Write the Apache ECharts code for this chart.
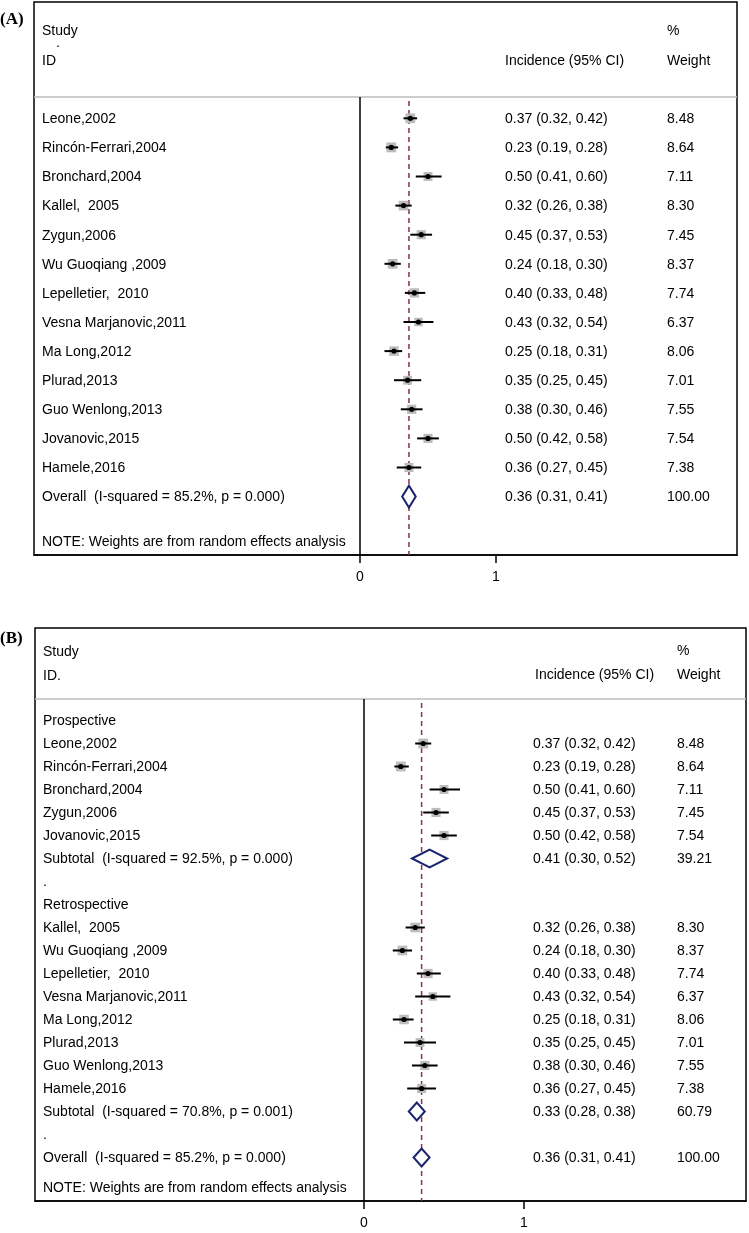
<!DOCTYPE html>
<html><head><meta charset="utf-8">
<script src="https://cdn.jsdelivr.net/npm/echarts@6/dist/echarts.min.js"></script>
<style>html,body{margin:0;padding:0;background:#fff}#c{width:749px;height:1233px}</style>
</head><body><div id="c"></div>
<script>
// ---------------- DATA ----------------
// Panel A: all studies
const studiesA = ['Leone,2002','Rincón-Ferrari,2004','Bronchard,2004','Kallel,  2005','Zygun,2006','Wu Guoqiang ,2009','Lepelletier,  2010','Vesna Marjanovic,2011','Ma Long,2012','Plurad,2013','Guo Wenlong,2013','Jovanovic,2015','Hamele,2016'];
const esA = [0.37,0.23,0.50,0.32,0.45,0.24,0.40,0.43,0.25,0.35,0.38,0.50,0.36];
const loA = [0.32,0.19,0.41,0.26,0.37,0.18,0.33,0.32,0.18,0.25,0.30,0.42,0.27];
const hiA = [0.42,0.28,0.60,0.38,0.53,0.30,0.48,0.54,0.31,0.45,0.46,0.58,0.45];
const wA  = [8.48,8.64,7.11,8.30,7.45,8.37,7.74,6.37,8.06,7.01,7.55,7.54,7.38];
const overallLabel = 'Overall  (I-squared = 85.2%, p = 0.000)';
const overallEs = [0.36, 0.31, 0.41, 100.00]; // es, lo, hi, weight

// Panel B: prospective subgroup
const studiesP = ['Leone,2002','Rincón-Ferrari,2004','Bronchard,2004','Zygun,2006','Jovanovic,2015'];
const esP = [0.37,0.23,0.50,0.45,0.50];
const loP = [0.32,0.19,0.41,0.37,0.42];
const hiP = [0.42,0.28,0.60,0.53,0.58];
const wP  = [8.48,8.64,7.11,7.45,7.54];
const subtotalPLabel = 'Subtotal  (I-squared = 92.5%, p = 0.000)';
const subtotalP = [0.41, 0.30, 0.52, 39.21];

// Panel B: retrospective subgroup
const studiesR = ['Kallel,  2005','Wu Guoqiang ,2009','Lepelletier,  2010','Vesna Marjanovic,2011','Ma Long,2012','Plurad,2013','Guo Wenlong,2013','Hamele,2016'];
const esR = [0.32,0.24,0.40,0.43,0.25,0.35,0.38,0.36];
const loR = [0.26,0.18,0.33,0.32,0.18,0.25,0.30,0.27];
const hiR = [0.38,0.30,0.48,0.54,0.31,0.45,0.46,0.45];
const wR  = [8.30,8.37,7.74,6.37,8.06,7.01,7.55,7.38];
const subtotalRLabel = 'Subtotal  (I-squared = 70.8%, p = 0.001)';
const subtotalR = [0.33, 0.28, 0.38, 60.79];

const groupLabels = ['Prospective','Retrospective'];
const xTickValues = [0, 1];
const noteText = 'NOTE: Weights are from random effects analysis';

// ---------------- LAYOUT ----------------
const FONT = '14px "Liberation Sans", Arial, sans-serif';
const layout = [
  { panel:'(A)', panelY:20, left:34, top:2, width:703, height:553, zeroPx:360, unitPx:136,
    row0Px:118.3, rowStep:29.1, nameDx:8, ciX:505, wX:667, sepY:97, dH:22,
    headers:[['Study',42,31],['.',56,43],['ID',42,61],['Incidence (95% CI)',505,61],['%',667,31],['Weight',667,61]] },
  { panel:'(B)', panelY:639, left:35, top:628, width:711, height:573, zeroPx:364, unitPx:160,
    row0Px:720.5, rowStep:23, nameDx:8, ciX:533, wX:677, sepY:699, dH:18,
    headers:[['Study',43,652],['ID.',43,676],['Incidence (95% CI)',535,675],['%',677,651],['Weight',677,675]] }
];

// ---------------- ROWS ----------------
function studyRows(names, es, lo, hi, w){
  return names.map((n,i)=>({kind:'study', name:n, es:es[i], lo:lo[i], hi:hi[i], w:w[i]}));
}
function diamondRow(label, v){ return {kind:'diamond', name:label, es:v[0], lo:v[1], hi:v[2], w:v[3]}; }

const rowsA = studyRows(studiesA, esA, loA, hiA, wA).concat([diamondRow(overallLabel, overallEs)]);
const rowsB = [].concat(
  [{kind:'label', name:groupLabels[0]}],
  studyRows(studiesP, esP, loP, hiP, wP),
  [diamondRow(subtotalPLabel, subtotalP), {kind:'label', name:'.'}],
  [{kind:'label', name:groupLabels[1]}],
  studyRows(studiesR, esR, loR, hiR, wR),
  [diamondRow(subtotalRLabel, subtotalR), {kind:'label', name:'.'}],
  [diamondRow(overallLabel, overallEs)]
);
const panelRows = [rowsA, rowsB];

// ---------------- RENDER ----------------
function txt(t, x, y, font, color){
  return {type:'text', style:{text:t, x:x, y:y, font:font||FONT, fill:color||'#000',
    textAlign:'left', textVerticalAlign:'middle', align:'left', verticalAlign:'middle'}};
}
function rowRenderer(p){
  const L = layout[p], rows = panelRows[p];
  return function(params, api){
    const r = rows[params.dataIndex];
    const row = api.value(1);
    const cs = params.coordSys;
    const y = api.coord([0, row])[1];
    const ch = [];
    if (r.kind === 'study'){
      const xs = api.coord([r.es,row])[0], xl = api.coord([r.lo,row])[0], xh = api.coord([r.hi,row])[0];
      const side = 3.35*Math.sqrt(r.w);
      ch.push({type:'rect', shape:{x:xs-side/2, y:y-side/2, width:side, height:side}, style:{fill:'#bcbcbc'}});
      ch.push({type:'line', shape:{x1:xl, y1:y, x2:xh, y2:y}, style:{stroke:'#000', lineWidth:2}});
      ch.push({type:'circle', shape:{cx:xs, cy:y, r:2.6}, style:{fill:'#000'}});
    } else if (r.kind === 'diamond'){
      const xs = api.coord([r.es,row])[0], xl = api.coord([r.lo,row])[0], xh = api.coord([r.hi,row])[0];
      const h = L.dH/2;
      ch.push({type:'polygon', shape:{points:[[xl,y],[xs,y-h],[xh,y],[xs,y+h]]},
        style:{fill:'#fff', stroke:'#1b246e', lineWidth:2}});
    }
    ch.push(txt(r.name, cs.x + L.nameDx, y + 1));
    if (r.kind !== 'label'){
      ch.push(txt(r.es.toFixed(2)+' ('+r.lo.toFixed(2)+', '+r.hi.toFixed(2)+')', L.ciX, y + 1));
      ch.push(txt(r.w.toFixed(2), L.wX, y + 1));
    }
    return {type:'group', children:ch};
  };
}
function staticRenderer(p){
  const L = layout[p];
  return function(params, api){
    const cs = params.coordSys;
    const bottom = cs.y + cs.height;
    const x0 = api.coord([0, 0])[0];
    const xo = api.coord([overallEs[0], 0])[0];
    const ch = [];
    ch.push({type:'line', shape:{x1:cs.x, y1:L.sepY, x2:cs.x+cs.width, y2:L.sepY}, style:{stroke:'#bdbdbd', lineWidth:1.5}});
    ch.push({type:'line', shape:{x1:x0, y1:L.sepY, x2:x0, y2:bottom}, style:{stroke:'#000', lineWidth:1.5}});
    ch.push({type:'line', shape:{x1:xo, y1:L.sepY+4, x2:xo, y2:bottom}, style:{stroke:'#8a3048', lineWidth:1.5, lineDash:[5,4]}});
    L.headers.forEach(h => ch.push(txt(h[0], h[1], h[2])));
    ch.push(txt(noteText, cs.x + L.nameDx, bottom - 13));
    ch.push(txt(L.panel, 0, L.panelY, 'bold 17px "Liberation Serif", "Times New Roman", serif'));
    return {type:'group', children:ch};
  };
}

const grids = layout.map(L => ({left:L.left, top:L.top, width:L.width, height:L.height,
  show:true, borderColor:'#000', borderWidth:1.5, containLabel:false}));
const xAxes = layout.map((L,i) => ({type:'value', gridIndex:i,
  min: -(L.zeroPx - L.left)/L.unitPx, max: (L.left + L.width - L.zeroPx)/L.unitPx,
  splitLine:{show:false},
  axisLine:{show:true, onZero:false, lineStyle:{color:'#000', width:1.5}},
  axisTick:{show:true, customValues:xTickValues, length:8, lineStyle:{color:'#000', width:1.5}},
  axisLabel:{show:true, customValues:xTickValues, margin:15, color:'#000', fontSize:14, fontFamily:'"Liberation Sans", Arial, sans-serif'}
}));
const yAxes = layout.map((L,i) => ({type:'value', gridIndex:i, inverse:true,
  min: -(L.row0Px - L.top)/L.rowStep, max: (L.top + L.height - L.row0Px)/L.rowStep,
  show:false, splitLine:{show:false}}));

const series = [];
layout.forEach((L,i) => {
  series.push({type:'custom', xAxisIndex:i, yAxisIndex:i, silent:true, clip:false, z:1,
    data:[[0,0]], renderItem: staticRenderer(i)});
  series.push({type:'custom', xAxisIndex:i, yAxisIndex:i, silent:true, clip:false, z:2,
    data: panelRows[i].map((r,k)=>[r.es === undefined ? 0 : r.es, k]), renderItem: rowRenderer(i)});
});

const chart = echarts.init(document.getElementById('c'), null, {renderer:'canvas'});
chart.setOption({animation:false, backgroundColor:'#fff', grid:grids, xAxis:xAxes, yAxis:yAxes, series:series});
</script></body></html>
